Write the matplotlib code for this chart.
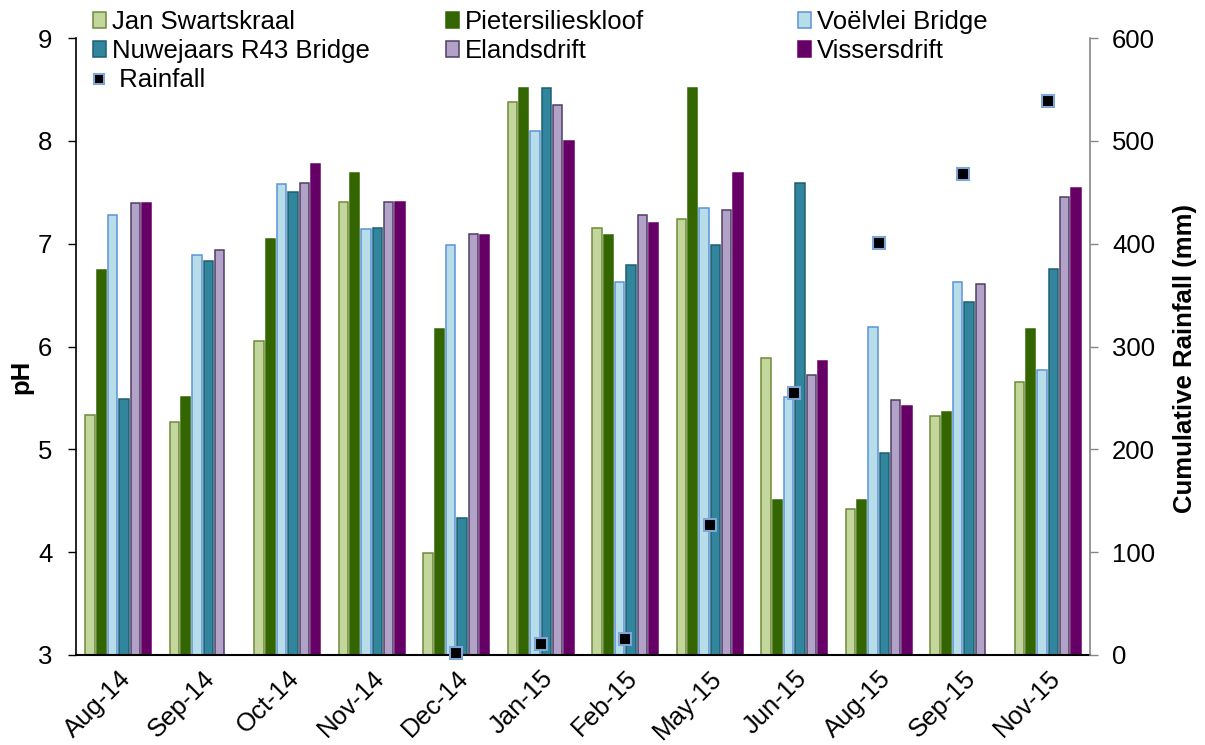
import numpy as np
import matplotlib
matplotlib.use("Agg")
import matplotlib.pyplot as plt
from matplotlib.patches import Patch
from matplotlib.lines import Line2D
from matplotlib.transforms import ScaledTranslation

plt.rcParams['font.family'] = ['Liberation Sans', 'DejaVu Sans']

months = ["Aug-14", "Sep-14", "Oct-14", "Nov-14", "Dec-14", "Jan-15",
          "Feb-15", "May-15", "Jun-15", "Aug-15", "Sep-15", "Nov-15"]

jan_swartskraal = [5.33, 5.27, 6.05, 7.41, 3.99, 8.38, 7.15, 7.24, 5.89, 4.42, 5.32, 5.65]
pietersilieskloof = [6.74, 5.51, 7.05, 7.69, 6.17, 8.51, 7.08, 8.51, 4.51, 4.51, 5.36, 6.17]
voelvlei_bridge = [7.28, 6.89, 7.58, 7.14, 6.99, 8.10, 6.63, 7.35, 5.51, 6.19, 6.63, 5.77]
nuwejaars_r43 = [5.49, 6.83, 7.50, 7.15, 4.33, 8.51, 6.79, 6.99, 7.59, 4.96, 6.43, 6.75]
elandsdrift = [7.40, 6.94, 7.59, 7.41, 7.09, 8.35, 7.28, 7.33, 5.72, 5.48, 6.61, 7.45]
vissersdrift = [7.40, np.nan, 7.77, 7.41, 7.08, 8.00, 7.20, 7.69, 5.86, 5.42, np.nan, 7.54]

rainfall = [np.nan, np.nan, np.nan, np.nan, 2, 11, 16, 126, 255, 401, 468, 539]

series = [
    ("Jan Swartskraal", jan_swartskraal, "#c3d69b", "#6f8a3a"),
    ("Nuwejaars R43 Bridge", nuwejaars_r43, "#31859c", "#215e70"),
    ("Pietersilieskloof", pietersilieskloof, "#336600", "#336600"),
    ("Elandsdrift", elandsdrift, "#b3a2c7", "#4f3d66"),
    ("Voëlvlei Bridge", voelvlei_bridge, "#b7dee8", "#5b93d8"),
    ("Vissersdrift", vissersdrift, "#660066", "#660066"),
]
# order of bars inside each month group
bar_order = ["Jan Swartskraal", "Pietersilieskloof", "Voëlvlei Bridge",
             "Nuwejaars R43 Bridge", "Elandsdrift", "Vissersdrift"]
lookup = {s[0]: s for s in series}

W, H = 1205, 745
fig = plt.figure(figsize=(W / 100, H / 100), dpi=100)
ax = fig.add_axes([76 / W, (H - 655) / H, (1090 - 76) / W, (655 - 38) / H])

x = np.arange(len(months))
slot = 0.134
width = 0.112
for k, name in enumerate(bar_order):
    _, vals, fc, ec = lookup[name]
    ax.bar(x + (k - 2.5) * slot, vals, width, color=fc, edgecolor=ec,
           linewidth=1.1, zorder=2)

ax.set_xlim(-0.5, len(months) - 0.5)
ax.set_ylim(3, 9)
ax.set_yticks(range(3, 10))
ax.set_xticks(x)
ax.set_xticklabels(months, rotation=45, ha='right', va='top',
                   rotation_mode='anchor', fontsize=18.5)
offset = ScaledTranslation(5 / 100, 0, fig.dpi_scale_trans)
for lbl in ax.get_xticklabels():
    lbl.set_transform(lbl.get_transform() + offset)
ax.tick_params(axis='x', length=0, pad=8)
ax.tick_params(axis='y', direction='out', length=6, width=1, pad=11,
               labelsize=18.5)
ax.spines['top'].set_visible(False)
ax.spines['right'].set_visible(False)
ax.spines['left'].set_linewidth(1.2)
ax.spines['bottom'].set_linewidth(1.5)

ax.set_ylabel("pH", fontsize=18.5, fontweight='bold')
ax.yaxis.set_label_coords(-0.0424, 0.45)

ax2 = ax.twinx()
ax2.set_ylim(0, 600)
ax2.set_yticks(range(0, 601, 100))
ax2.plot(x, rainfall, linestyle='none', marker='s', markersize=9,
         markerfacecolor='black', markeredgecolor='#7fa6d6',
         markeredgewidth=1.5, zorder=3, clip_on=False)
for side in ['top', 'left', 'bottom']:
    ax2.spines[side].set_visible(False)
ax2.spines['right'].set_color('#868686')
ax2.spines['right'].set_linewidth(1.2)
ax2.tick_params(axis='y', direction='out', length=6, width=1,
                color='#868686', pad=10, labelsize=18.5)
ax2.set_ylabel("Cumulative Rainfall (mm)", fontsize=18.5, fontweight='bold')
ax2.yaxis.set_label_coords(1.082, 0.48)

# legend in three fixed-width columns
def patch(name):
    _, _, fc, ec = lookup[name]
    return Patch(facecolor=fc, edgecolor=ec, linewidth=1.1)

rain_handle = Line2D([], [], linestyle='none', marker='s', markersize=7,
                     markerfacecolor='black', markeredgecolor='#7fa6d6',
                     markeredgewidth=1.5)

columns = [
    (93, [patch("Jan Swartskraal"), patch("Nuwejaars R43 Bridge"), rain_handle],
     ["Jan Swartskraal", "Nuwejaars R43 Bridge", " Rainfall"]),
    (446, [patch("Pietersilieskloof"), patch("Elandsdrift")],
     ["Pietersilieskloof", "Elandsdrift"]),
    (798, [patch("Voëlvlei Bridge"), patch("Vissersdrift")],
     ["Voëlvlei Bridge", "Vissersdrift"]),
]
for xpx, handles, labels in columns:
    fig.legend(handles, labels, loc='upper left',
               bbox_to_anchor=(xpx / W, (H - 10) / H),
               frameon=False, borderpad=0, borderaxespad=0,
               handlelength=0.5, handleheight=0.55, handletextpad=0.25,
               labelspacing=0.2, fontsize=18.5)

fig.savefig("out.png", dpi=100)
